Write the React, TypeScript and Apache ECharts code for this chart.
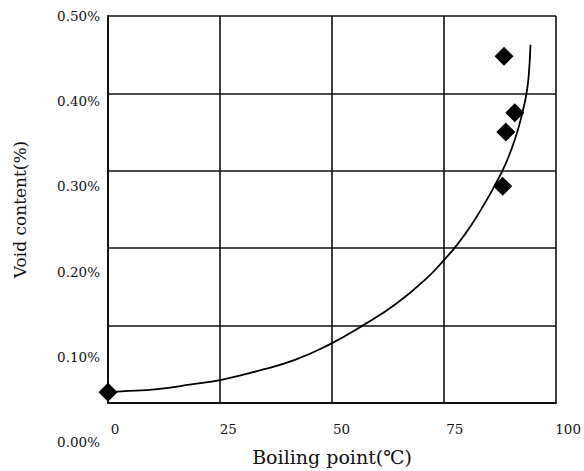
import React, { useEffect, useRef } from "react";
import * as echarts from "echarts";

// Tick labels
const xTicks = [0, 25, 50, 75, 100];
const yTicks = [0, 0.1, 0.2, 0.3, 0.4, 0.5]; // percent

// Measured void content (%) vs boiling point (°C)
const measuredX = [0, 88.4, 90.8, 88.8, 88.1];
const measuredY = [0.014, 0.448, 0.375, 0.35, 0.28];

// Fitted curve
const curveX = [0.5, 3.0, 11.0, 18.6, 25.3, 33.5, 41.7, 49.5, 57.0, 64.4, 71.1, 75.2, 78.0, 81.0, 84.0, 86.5, 88.6, 90.8, 92.5, 93.5, 94.0, 94.3];
const curveY = [0.014, 0.015, 0.018, 0.024, 0.03, 0.0415, 0.0557, 0.0758, 0.1006, 0.1285, 0.161, 0.186, 0.205, 0.229, 0.257, 0.283, 0.307, 0.34, 0.375, 0.403, 0.43, 0.4627];

const xName = "Boiling point(℃)";
const yName = "Void content(%)";

const FONT = "DejaVu Serif";

export default function App() {
  const ref = useRef<HTMLDivElement>(null);
  useEffect(() => {
    document.body.style.margin = "0";
    const chart = echarts.init(ref.current!, null, { renderer: "svg" });
    const lineStyle = { color: "#111", width: 1.6 };
    chart.setOption({
      animation: false,
      backgroundColor: "#fff",
      grid: [
        { left: 108, right: 28, top: 16, bottom: 66 },
        { left: 108, right: 28, top: 16, bottom: 29 },
        { left: 115, right: 15, top: 16, bottom: 66 },
      ],
      xAxis: [
        {
          gridIndex: 0,
          type: "value",
          min: xTicks[0],
          max: xTicks[xTicks.length - 1],
          interval: 25,
          axisLine: { show: true, lineStyle: { color: "#111", width: 2 } },
          axisTick: { show: false },
          axisLabel: { show: false },
          splitLine: { show: true, lineStyle },
          name: xName,
          nameLocation: "middle",
          nameGap: 44,
          nameTextStyle: { fontFamily: FONT, fontSize: 19, color: "#111" },
        },
        {
          gridIndex: 1,
          type: "value",
          min: 0,
          max: 100,
          show: false,
        },
        {
          gridIndex: 2,
          type: "value",
          min: xTicks[0],
          max: xTicks[xTicks.length - 1],
          interval: 25,
          axisLine: { show: false },
          axisTick: { show: false },
          splitLine: { show: false },
          axisLabel: {
            show: true,
            margin: 17,
            fontFamily: FONT,
            fontSize: 13.5,
            color: "#111",
            formatter: (v: number) => String(v),
          },
        },
      ],
      yAxis: [
        {
          gridIndex: 0,
          type: "value",
          min: yTicks[0],
          max: yTicks[yTicks.length - 1],
          interval: 0.1,
          axisLine: { show: true, lineStyle: { color: "#111", width: 2 } },
          axisTick: { show: false },
          axisLabel: { show: false },
          splitLine: { show: true, lineStyle },
          name: yName,
          nameLocation: "middle",
          nameGap: 80,
          nameTextStyle: { fontFamily: FONT, fontSize: 17, color: "#111" },
        },
        {
          gridIndex: 1,
          type: "value",
          min: yTicks[0],
          max: yTicks[yTicks.length - 1],
          interval: 0.1,
          axisLine: { show: false },
          axisTick: { show: false },
          splitLine: { show: false },
          axisLabel: {
            show: true,
            margin: 8,
            fontFamily: FONT,
            fontSize: 13.5,
            color: "#111",
            formatter: (v: number) => v.toFixed(2) + "%",
          },
        },
        {
          gridIndex: 2,
          type: "value",
          min: 0,
          max: 1,
          show: false,
        },
      ],
      series: [
        {
          type: "line",
          xAxisIndex: 0,
          yAxisIndex: 0,
          data: curveX.map((x, i) => [x, curveY[i]]),
          smooth: 0.5,
          showSymbol: false,
          symbol: "none",
          lineStyle: { color: "#000", width: 1.8 },
          z: 3,
        },
        {
          type: "scatter",
          xAxisIndex: 0,
          yAxisIndex: 0,
          data: measuredX.map((x, i) => [x, measuredY[i]]),
          symbol: "diamond",
          symbolSize: 19,
          itemStyle: { color: "#000", opacity: 1 },
          clip: false,
          z: 4,
        },
      ],
    });
    return () => chart.dispose();
  }, []);
  return <div ref={ref} style={{ width: 584, height: 471 }} />;
}
